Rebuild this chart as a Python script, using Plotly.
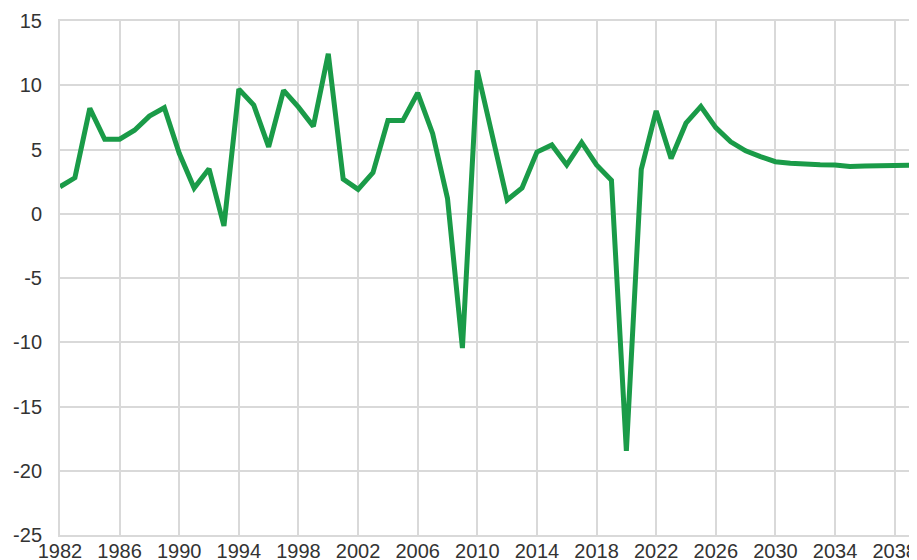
import plotly.graph_objects as go

# Annual growth, %
years = list(range(1982, 2041))
growth = [
    2.1, 2.8, 8.2, 5.8, 5.8, 6.5, 7.6, 8.25, 4.7, 2.0,
    3.5, -0.95, 9.7, 8.45, 5.2, 9.6, 8.3, 6.8, 12.45, 2.7,
    1.9, 3.2, 7.25, 7.25, 9.4, 6.25, 1.2, -10.45, 11.15, 6.0,
    1.07, 2.0, 4.8, 5.35, 3.8, 5.55, 3.8, 2.6, -18.45, 3.45,
    8.0, 4.3, 7.05, 8.35, 6.7, 5.6, 4.9, 4.45, 4.05, 3.93,
    3.85, 3.82, 3.8, 3.67, 3.72, 3.75, 3.75, 3.77, 3.8,
]

x_ticks = list(range(1982, 2041, 4))
y_ticks = list(range(-25, 16, 5))
y_labels = [str(v) for v in y_ticks]  # plain hyphen minus, as in the source

GRID = "#d9d9d9"
LINE = "#1a9b48"

fig = go.Figure(go.Scatter(
    x=years,
    y=growth,
    mode="lines",
    line=dict(color=LINE, width=5),
    showlegend=False,
))

# page body has an 8px margin: keep the figure inside the window
fig.update_layout(
    width=909,
    height=552,
    margin=dict(l=52, r=0, t=13, b=25),
    paper_bgcolor="white",
    plot_bgcolor="white",
    font=dict(family="Liberation Sans, Arial", size=20, color="#333333"),
)

fig.update_xaxes(
    range=[1982, 2039.5],
    tickvals=x_ticks,
    showgrid=True,
    gridcolor=GRID,
    gridwidth=2,
    showline=True,
    linecolor=GRID,
    linewidth=2,
    mirror=True,
    zeroline=False,
    ticks="",
    automargin=False,
    ticklabelstandoff=-3,
)

fig.update_yaxes(
    range=[-25, 15],
    tickvals=y_ticks,
    ticktext=y_labels,
    showgrid=True,
    gridcolor=GRID,
    gridwidth=2,
    showline=True,
    linecolor=GRID,
    linewidth=2,
    zeroline=False,
    ticks="",
    automargin=False,
    ticklabelstandoff=12,
)

fig.write_html("out.html")
